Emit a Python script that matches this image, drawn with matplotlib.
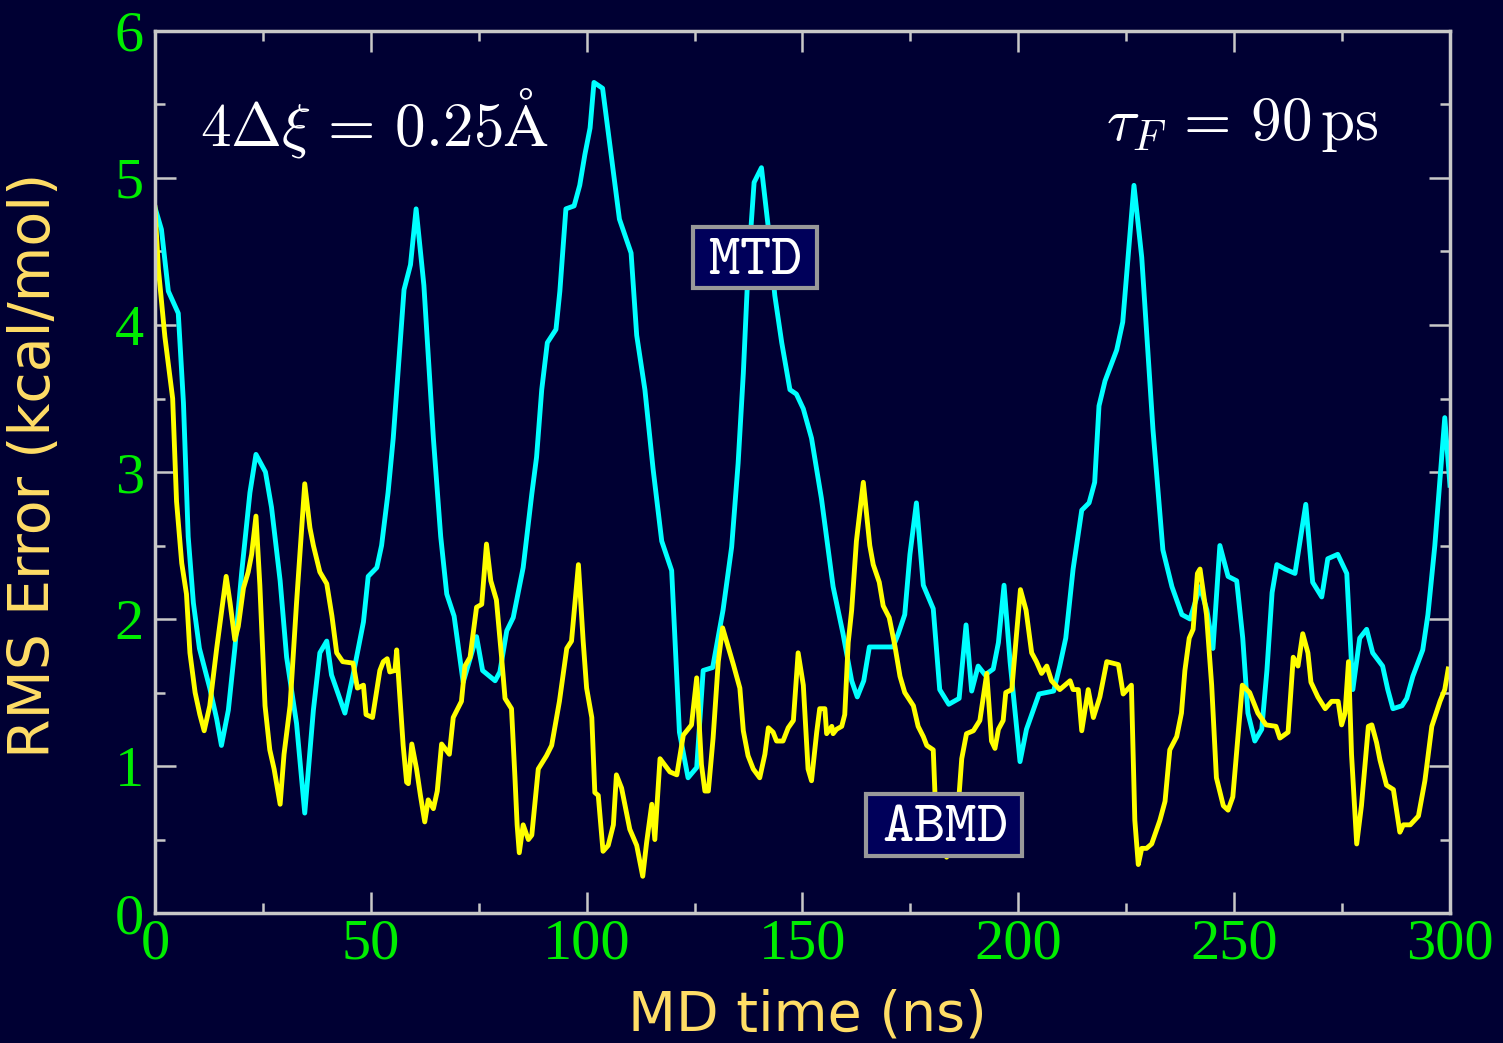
# RMS error vs MD time, MTD vs ABMD
import numpy as np
import matplotlib
matplotlib.use('Agg')
import matplotlib.pyplot as plt
from matplotlib.path import Path
from matplotlib.ticker import MultipleLocator, FuncFormatter

plt.rcParams['mathtext.fontset'] = 'cm'

# MTD curve (cyan)
mtd_t = [0, 1.5, 3.1, 5.4, 6.6, 7.7, 8.9, 10.3, 12.7, 14.3, 15.4, 17, 18.5, 20.1, 22, 23.4,
         25.6, 27, 29, 30.5, 32.8, 34.7, 36.7, 38.2, 39.8, 40.9, 44, 45.9, 48.3, 49.4, 51.4,
         52.5, 54, 55.2, 56.4, 57.7, 59.2, 60.5, 62.3, 64.5, 66.2, 67.6, 69.3, 71.4, 74.5,
         75.9, 78.8, 79.9, 81.5, 83, 85.3, 87.3, 88.4, 89.6, 90.9, 92.9, 93.8, 95.2, 97.1,
         98.4, 99.6, 100.8, 101.7, 103.7, 105.8, 107.6, 110.3, 111.6, 113.5, 115.4, 117.4,
         119.7, 121.5, 123.5, 125.5, 127, 129.2, 131.6, 133.6, 135.1, 136.3, 137.4, 138.8,
         140.5, 142.1, 143.6, 145.2, 147.1, 148.6, 150.2, 152.1, 154.4, 157.1, 159.4, 161.4,
         162.7, 164.2, 165.5, 171, 172.2, 173.7, 174.9, 176.4, 178, 180.3, 181.8, 183.9,
         186.3, 187.9, 189.2, 190.7, 192.3, 194.2, 195.4, 196.7, 198.1, 200.4, 201.9, 204.8,
         208.2, 209.6, 211, 212.7, 214.7, 216.4, 217.7, 218.7, 220.1, 222.8, 224.2, 226.8,
         228.6, 229.8, 231.2, 233.5, 235.6, 237.9, 239.8, 242.1, 243.7, 245.1, 246.7, 248.6,
         250.6, 252, 253.2, 254.8, 256.4, 257.6, 258.8, 259.9, 261.8, 264.1, 266.6, 268.2,
         270.3, 271.7, 274, 276.1, 277.5, 279.1, 280.7, 282.1, 284.4, 285.6, 286.8, 288.9,
         290, 291.4, 293.7, 294.9, 296.5, 298.8, 300]
mtd_rms = [4.80, 4.65, 4.23, 4.08, 3.47, 2.56, 2.11, 1.80, 1.53, 1.32, 1.14, 1.38, 1.80, 2.32,
           2.86, 3.12, 3.00, 2.76, 2.26, 1.74, 1.29, 0.68, 1.38, 1.77, 1.85, 1.62, 1.36, 1.62,
           1.98, 2.29, 2.35, 2.50, 2.86, 3.23, 3.71, 4.24, 4.41, 4.79, 4.27, 3.23, 2.56, 2.17,
           2.02, 1.57, 1.88, 1.65, 1.58, 1.64, 1.92, 2.01, 2.35, 2.85, 3.10, 3.56, 3.88, 3.97,
           4.23, 4.79, 4.81, 4.95, 5.16, 5.34, 5.65, 5.61, 5.13, 4.72, 4.49, 3.93, 3.56, 3.02,
           2.53, 2.33, 1.23, 0.92, 0.99, 1.65, 1.67, 2.06, 2.49, 3.06, 3.67, 4.38, 4.97, 5.07,
           4.66, 4.20, 3.88, 3.56, 3.53, 3.43, 3.23, 2.82, 2.22, 1.90, 1.58, 1.47, 1.58, 1.81,
           1.81, 1.90, 2.03, 2.44, 2.79, 2.23, 2.07, 1.52, 1.42, 1.46, 1.96, 1.51, 1.68, 1.62,
           1.66, 1.84, 2.23, 1.71, 1.03, 1.25, 1.49, 1.51, 1.68, 1.87, 2.34, 2.74, 2.79, 2.93,
           3.45, 3.62, 3.83, 4.02, 4.95, 4.46, 3.92, 3.29, 2.47, 2.22, 2.03, 2.00, 2.22, 2.06,
           1.80, 2.50, 2.29, 2.26, 1.87, 1.36, 1.17, 1.25, 1.65, 2.18, 2.37, 2.34, 2.31, 2.78,
           2.25, 2.15, 2.41, 2.44, 2.31, 1.52, 1.87, 1.93, 1.77, 1.68, 1.52, 1.39, 1.41, 1.46,
           1.61, 1.79, 2.03, 2.50, 3.37, 2.91]

# ABMD curve (yellow)
abmd_t = [0, 0.8, 2.3, 4.1, 5, 6.2, 7.3, 8.1, 9.3, 10.4, 11.4, 12.7, 14.3, 16.5, 17.4, 18.5,
          19.3, 20.5, 21.6, 22.4, 23.4, 24.3, 25.5, 26.6, 27.6, 29, 29.9, 31.3, 32.8, 34.7,
          35.9, 36.7, 38.2, 39.8, 41, 42.1, 43.5, 45.9, 46.9, 48.3, 48.9, 50.4, 52.1, 52.9,
          53.8, 54.4, 55.6, 56, 57.5, 58.3, 58.7, 59.5, 60.6, 61.5, 62.5, 63.3, 64.5, 65.4,
          66.4, 68.2, 69.1, 71, 71.8, 73, 74.5, 75.7, 76.8, 77.8, 79.1, 80.3, 81.1, 82.6,
          83.4, 83.9, 84.4, 85.3, 86.5, 87.3, 88.8, 90.7, 91.9, 93.7, 95.4, 96.5, 98.1, 99.2,
          100, 101.2, 101.9, 102.7, 103.8, 105, 106.2, 106.9, 108.1, 110, 111.6, 113, 113.9,
          115.1, 115.8, 117, 119.3, 120.9, 122.4, 124.3, 125.5, 126.6, 127.4, 128.2, 129.3,
          130.5, 131.5, 132.8, 134, 135.5, 136.3, 137.4, 138.6, 140.1, 141.3, 142.1, 143.2,
          144, 145.5, 146.7, 147.9, 149, 150.2, 151.3, 152.1, 153.3, 154, 155.2, 155.6, 156.8,
          157.1, 157.9, 159.1, 159.8, 160.6, 161.4, 162.5, 164.1, 165.6, 166.4, 167.8, 168.7,
          170.1, 171.4, 172.6, 173.7, 175.7, 176.8, 178, 178.8, 180.3, 181.1, 183.4, 185.7,
          186.9, 188, 189.6, 191.1, 192.7, 193.8, 194.6, 195.4, 196.5, 197.1, 198.5, 199.6,
          200.5, 201.8, 203.1, 204.2, 205.4, 206.6, 207.7, 209.6, 212, 212.7, 213.9, 214.7,
          216.2, 217.4, 218.9, 220.5, 223.2, 224.3, 226.2, 227, 227.8, 228.6, 229.7, 230.9,
          232.8, 234, 235.1, 236.7, 237.8, 238.6, 239.6, 240.5, 241.5, 242.1, 243.6, 244.8,
          245.9, 247.5, 248.6, 249.7, 250.9, 251.9, 253.6, 255.5, 257.4, 259.7, 260.6, 262.5,
          263.7, 264.8, 265.9, 267.1, 267.8, 269.4, 271.1, 272.6, 274.1, 274.9, 275.7, 276.5,
          277.2, 278.4, 279.5, 281.1, 281.9, 283, 283.8, 285.3, 286.9, 288.4, 289.2, 290.8,
          292.7, 294.2, 295.8, 297.7, 298.8, 299.6]
abmd_rms = [4.80, 4.38, 3.92, 3.50, 2.80, 2.38, 2.17, 1.77, 1.50, 1.35, 1.24, 1.41, 1.80, 2.29,
            2.11, 1.86, 1.95, 2.21, 2.32, 2.44, 2.70, 2.23, 1.41, 1.11, 0.98, 0.74, 1.08, 1.41,
            2.11, 2.92, 2.62, 2.50, 2.32, 2.24, 2.02, 1.77, 1.71, 1.70, 1.53, 1.55, 1.35, 1.33,
            1.65, 1.71, 1.73, 1.64, 1.65, 1.79, 1.14, 0.89, 0.88, 1.15, 0.98, 0.80, 0.62, 0.77,
            0.71, 0.83, 1.15, 1.08, 1.33, 1.44, 1.68, 1.74, 2.08, 2.10, 2.51, 2.26, 2.13, 1.74,
            1.46, 1.39, 0.92, 0.60, 0.41, 0.60, 0.50, 0.53, 0.98, 1.07, 1.14, 1.44, 1.80, 1.85,
            2.37, 1.85, 1.53, 1.33, 0.82, 0.80, 0.42, 0.46, 0.60, 0.94, 0.85, 0.57, 0.46, 0.25,
            0.48, 0.74, 0.50, 1.05, 0.96, 0.94, 1.21, 1.28, 1.60, 1.01, 0.83, 0.83, 1.19, 1.71,
            1.94, 1.81, 1.69, 1.53, 1.24, 1.07, 0.98, 0.92, 1.08, 1.26, 1.23, 1.17, 1.17, 1.26,
            1.31, 1.77, 1.55, 0.98, 0.90, 1.23, 1.39, 1.39, 1.22, 1.27, 1.22, 1.25, 1.27, 1.35,
            1.84, 2.06, 2.53, 2.93, 2.50, 2.37, 2.25, 2.09, 2.01, 1.82, 1.61, 1.50, 1.41, 1.27,
            1.20, 1.14, 1.11, 0.51, 0.38, 0.57, 1.05, 1.22, 1.24, 1.31, 1.63, 1.17, 1.12, 1.25,
            1.31, 1.50, 1.52, 1.90, 2.20, 2.06, 1.77, 1.71, 1.63, 1.68, 1.58, 1.52, 1.58, 1.52,
            1.52, 1.24, 1.52, 1.33, 1.47, 1.71, 1.69, 1.49, 1.55, 0.63, 0.33, 0.44, 0.44, 0.47,
            0.63, 0.76, 1.11, 1.20, 1.36, 1.65, 1.87, 1.93, 2.31, 2.34, 2.03, 1.55, 0.92, 0.73,
            0.70, 0.79, 1.20, 1.55, 1.50, 1.36, 1.28, 1.27, 1.19, 1.23, 1.74, 1.68, 1.90, 1.77,
            1.57, 1.47, 1.39, 1.44, 1.44, 1.28, 1.36, 1.71, 1.08, 0.47, 0.73, 1.27, 1.28, 1.16,
            1.04, 0.87, 0.84, 0.55, 0.60, 0.60, 0.66, 0.90, 1.27, 1.44, 1.52, 1.66]


def wide_box(x0, y0, width, height, mutation_size):
    # rectangle with more padding at the sides than top/bottom
    px = 0.26 * mutation_size
    py = 0.02 * mutation_size
    x1, y1 = x0 + width + px, y0 + height + py
    x0, y0 = x0 - px, y0 - py
    return Path([(x0, y0), (x1, y0), (x1, y1), (x0, y1), (x0, y0)], closed=True)


bg = '#000033'
fig = plt.figure(figsize=(15.03, 10.43), dpi=100, facecolor=bg)
ax = fig.add_axes([0.1031, 0.1246, 0.8616, 0.8457], facecolor=bg)

ax.plot(mtd_t, mtd_rms, color='#00ffff', lw=3.5)
ax.plot(abmd_t, abmd_rms, color='#ffff00', lw=3.5)

ax.set_xlim(0, 300)
ax.set_ylim(0, 6)
ax.xaxis.set_major_locator(MultipleLocator(50))
ax.xaxis.set_minor_locator(MultipleLocator(25))
ax.yaxis.set_major_locator(MultipleLocator(1))
ax.yaxis.set_minor_locator(MultipleLocator(0.5))
ax.xaxis.set_major_formatter(FuncFormatter(lambda v, p: f'{v:g}'))
ax.yaxis.set_major_formatter(FuncFormatter(lambda v, p: f'{v:g}'))

for s in ax.spines.values():
    s.set_color('#c8c8c8')
    s.set_linewidth(2.5)
ax.tick_params(which='both', direction='in', top=True, right=True, color='#c8c8c8', width=1.8)
ax.tick_params(which='major', length=15)
ax.tick_params(which='minor', length=7.5)
ax.tick_params(axis='both', labelcolor='#00ee00', labelsize=42)
ax.tick_params(axis='x', pad=4)
ax.tick_params(axis='y', pad=8)
for lab in ax.get_xticklabels() + ax.get_yticklabels():
    lab.set_family('Liberation Serif')

ax.set_xlabel('MD time (ns)', color='#ffdd66', fontsize=40, family='DejaVu Sans')
ax.set_ylabel('RMS Error (kcal/mol)', color='#ffdd66', fontsize=41, family='DejaVu Sans')
ax.xaxis.set_label_coords(0.504, -0.116)
ax.xaxis.label.set_va('center')
ax.yaxis.set_label_coords(-0.093, 0.508)
ax.yaxis.label.set_va('center')

ax.text(10.4, 5.22, r'$4\Delta\xi\,=\,0.25\mathrm{\AA}$', color='white', fontsize=44,
        ha='left', va='baseline')
ax.text(283.5, 5.26, r'$\tau_F\,=\,90\,\mathrm{ps}$', color='white', fontsize=44,
        ha='right', va='baseline')

box = dict(boxstyle=wide_box, fc='#00005a', ec='#999999', lw=3)
ax.text(139, 4.46, r'$\mathtt{MTD}$', color='white', fontsize=43, ha='center', va='center', bbox=box)
ax.text(182.8, 0.6, r'$\mathtt{ABMD}$', color='white', fontsize=43, ha='center', va='center', bbox=box)

plt.savefig('out.png', dpi=100, facecolor=bg)
